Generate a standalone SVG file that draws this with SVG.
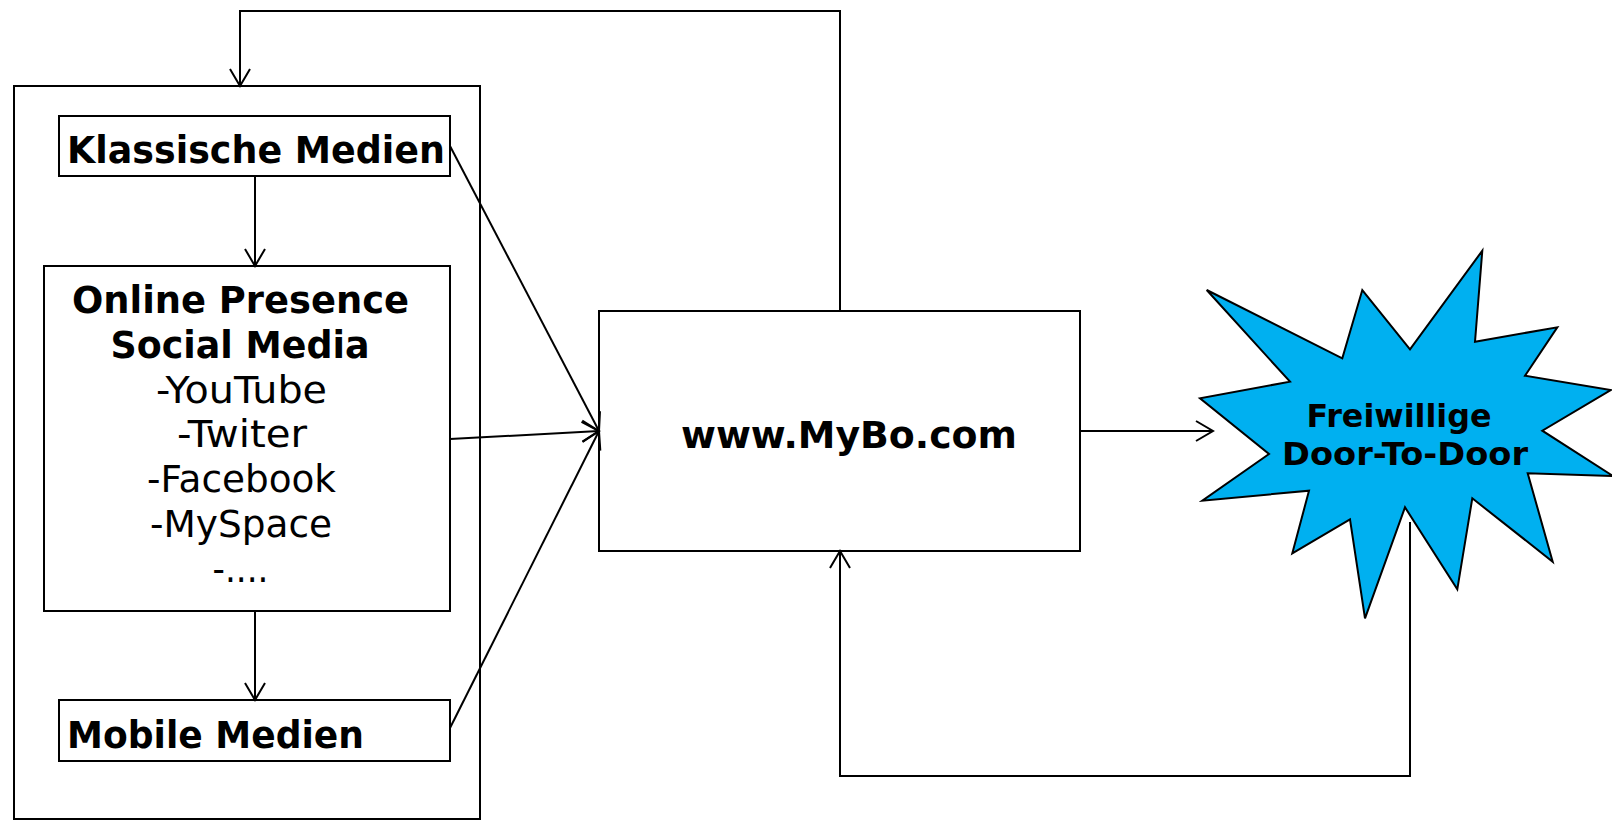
<svg xmlns="http://www.w3.org/2000/svg" width="1612" height="820" viewBox="0 0 1612 820">
<style>
.box{fill:#fff;stroke:#000;stroke-width:2}
.b{font-family:"DejaVu Sans",Verdana,sans-serif;font-weight:bold;font-size:37px;fill:#000}
.r{font-family:"DejaVu Sans",Verdana,sans-serif;font-size:37px;fill:#000}
.c{fill:none;stroke:#000;stroke-width:2}
</style>
<defs>
<marker id="a" viewBox="0 0 20 20" markerWidth="20" markerHeight="20" refX="18" refY="10" orient="auto" markerUnits="userSpaceOnUse" overflow="visible">
<path d="M1,0 L18,10 L1,20" fill="none" stroke="#000" stroke-width="2"/>
</marker>
</defs>
<rect width="1612" height="820" fill="#fff"/>
<g id="outer"><rect class="box" x="14" y="86" width="466" height="733"/></g>
<g id="klassische"><rect class="box" x="59" y="116" width="391" height="60"/><text class="b" x="67" y="163" textLength="378" lengthAdjust="spacingAndGlyphs">Klassische Medien</text></g>
<g id="online"><rect class="box" x="44" y="266" width="406" height="345"/>
<text class="b" x="72" y="313" textLength="337" lengthAdjust="spacingAndGlyphs">Online Presence</text>
<text class="b" x="110.5" y="358" textLength="259" lengthAdjust="spacingAndGlyphs">Social Media</text>
<text class="r" x="156" y="403" textLength="171" lengthAdjust="spacingAndGlyphs">-YouTube</text>
<text class="r" x="177" y="447" textLength="130" lengthAdjust="spacingAndGlyphs">-Twiter</text>
<text class="r" x="147" y="492" textLength="189" lengthAdjust="spacingAndGlyphs">-Facebook</text>
<text class="r" x="150" y="537" textLength="182" lengthAdjust="spacingAndGlyphs">-MySpace</text>
<text class="r" x="212.5" y="582" textLength="56" lengthAdjust="spacingAndGlyphs">-....</text>
</g>
<g id="mobile"><rect class="box" x="59" y="700" width="391" height="61"/><text class="b" x="67" y="748" textLength="297" lengthAdjust="spacingAndGlyphs">Mobile Medien</text></g>
<g id="mybo"><rect class="box" x="599" y="311" width="481" height="240"/><text class="b" x="681" y="448" textLength="336" lengthAdjust="spacingAndGlyphs">www.MyBo.com</text></g>
<g id="star"><polygon points="1206.7,290 1342.3,358.3 1362.3,290 1410,349.3 1482.3,250.7 1475,341.7 1557.3,327.3 1525,375.7 1610.7,390 1542.3,430.7 1613,476 1527.7,473.3 1552.7,561.7 1472.3,498.3 1457.3,589.3 1405,507.3 1365,618.3 1350,519.3 1292.3,553.3 1309,490.7 1202.3,500.7 1269,454 1200,398.3 1290,381.7" fill="#00B0F0" stroke="#000" stroke-width="2" stroke-linejoin="miter"/>
<text class="b" style="font-size:32px" x="1306.5" y="427" textLength="185" lengthAdjust="spacingAndGlyphs">Freiwillige</text>
<text class="b" style="font-size:32px" x="1282" y="465" textLength="246" lengthAdjust="spacingAndGlyphs">Door-To-Door</text>
</g>
<g id="connectors">
<path class="c" d="M840,311 V11 H240 V86" marker-end="url(#a)"/>
<path class="c" d="M255,176 V266" marker-end="url(#a)"/>
<path class="c" d="M255,611 V700" marker-end="url(#a)"/>
<path class="c" d="M450,146 L599,431" marker-end="url(#a)"/>
<path class="c" d="M450,439 L599,431" marker-end="url(#a)"/>
<path class="c" d="M450,728 L599,431" marker-end="url(#a)"/>
<path class="c" d="M1080,431 L1213,431" marker-end="url(#a)"/>
<path class="c" d="M1410,522 V776 H840 V551" marker-end="url(#a)"/>
</g>
</svg>
